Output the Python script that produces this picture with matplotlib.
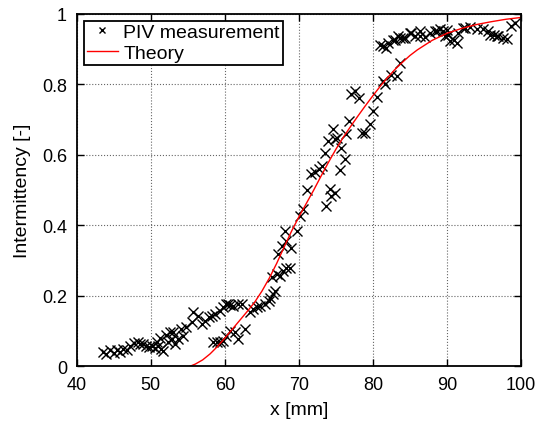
import numpy as np
import matplotlib
matplotlib.use("Agg")
import matplotlib.pyplot as plt

plt.rcParams['font.family'] = ['Liberation Sans', 'DejaVu Sans']

# PIV measurement points (x [mm], intermittency)
piv_x = [43.6, 44.0, 44.5, 45.0, 45.4, 45.9, 46.3, 46.8, 47.2, 47.7, 48.2, 48.6, 49.0, 49.4, 49.8,
         50.2, 50.6, 51.0, 51.4, 51.7,
         50.8, 51.3, 52.0, 52.3, 52.6, 53.0, 53.3, 53.7, 54.1, 54.4, 54.8, 52.9,
         55.5, 55.7, 56.4, 56.9, 57.3, 57.8, 58.2, 58.7, 59.3, 59.8, 60.2, 60.7, 61.1, 61.8, 62.3, 60.4,
         58.4, 58.9, 59.3, 59.8, 60.2, 60.7, 61.4, 61.8, 62.7, 63.4, 63.8, 64.3, 64.7, 65.4, 65.9, 66.1,
         66.5, 66.8,
         66.3, 67.0, 67.4, 67.9, 68.3, 68.8, 67.2, 67.7, 68.3, 69.0, 68.1, 69.7, 70.1, 70.6, 71.1,
         73.7, 74.2, 74.9, 74.4, 71.7, 72.2, 72.7, 73.1, 73.5, 75.5, 76.2, 75.7, 73.9, 74.9, 74.6, 76.4,
         76.7, 75.1,
         78.5, 78.9, 79.6, 80.0, 80.6, 77.1, 77.6, 78.1,
         81.4, 81.6, 82.5, 83.2, 83.6,
         80.9, 81.4, 81.8, 82.1, 82.7, 83.0, 83.4, 83.6, 84.1, 84.3, 85.0, 85.2, 85.7, 86.3, 86.4, 87.0,
         87.7, 88.4, 88.6, 89.1, 89.5, 89.7, 90.0, 90.2, 90.4, 90.9, 91.3, 91.5, 92.2, 92.4, 93.1, 94.0,
         94.9, 95.6, 95.8, 96.3, 96.7, 96.9, 97.6, 98.1, 98.7, 99.2]
piv_y = [0.040, 0.035, 0.045, 0.038, 0.046, 0.040, 0.050, 0.047, 0.058, 0.065, 0.068, 0.064, 0.062, 0.058, 0.055,
         0.058, 0.052, 0.058, 0.048, 0.044,
         0.068, 0.080, 0.090, 0.068, 0.098, 0.096, 0.062, 0.077, 0.106, 0.085, 0.110, 0.078,
         0.125, 0.153, 0.143, 0.120, 0.129, 0.139, 0.143, 0.148, 0.158, 0.167, 0.177, 0.174, 0.172, 0.177, 0.177, 0.177,
         0.068, 0.068, 0.068, 0.073, 0.087, 0.101, 0.096, 0.077, 0.106, 0.153, 0.162, 0.167, 0.172, 0.177, 0.186, 0.195,
         0.205, 0.214,
         0.252, 0.262, 0.257, 0.271, 0.280, 0.280, 0.318, 0.342, 0.356, 0.337, 0.384, 0.384, 0.427, 0.446, 0.500,
         0.455, 0.502, 0.493, 0.483, 0.545, 0.550, 0.560, 0.568, 0.606, 0.556, 0.587, 0.620, 0.639, 0.644, 0.672, 0.658,
         0.696, 0.649,
         0.663, 0.663, 0.688, 0.724, 0.765, 0.772, 0.781, 0.760,
         0.809, 0.800, 0.828, 0.823, 0.861,
         0.913, 0.908, 0.903, 0.918, 0.927, 0.927, 0.936, 0.932, 0.932, 0.932, 0.946, 0.946, 0.937, 0.951, 0.937, 0.935,
         0.946, 0.951, 0.951, 0.958, 0.951, 0.937, 0.955, 0.941, 0.922, 0.927, 0.918, 0.946, 0.960, 0.960, 0.962, 0.958,
         0.956, 0.951, 0.941, 0.941, 0.937, 0.937, 0.932, 0.930, 0.965, 0.975]

# theory curve
theory_x = [55.3, 56, 57, 58, 59, 60, 61, 62, 63, 64, 65, 66, 67, 68, 69, 70, 71, 72, 73, 74,
            75, 76, 77, 78, 79, 80, 81, 82, 83, 84, 85, 86, 88, 90, 92, 94, 96, 98, 100]
theory_y = [0.0, 0.006, 0.018, 0.035, 0.056, 0.08, 0.105, 0.13, 0.155, 0.181, 0.213, 0.25, 0.292,
            0.338, 0.383, 0.424, 0.462, 0.5, 0.54, 0.579, 0.616, 0.65, 0.681, 0.711, 0.74, 0.768,
            0.795, 0.82, 0.843, 0.863, 0.882, 0.898, 0.925, 0.945, 0.959, 0.97, 0.978, 0.985, 0.99]

fig = plt.figure(figsize=(5.41, 4.27), dpi=100)
ax = fig.add_axes([0.142, 0.14, 0.821, 0.825])

ax.plot(piv_x, piv_y, 'kx', markersize=7, markeredgewidth=1.0, label='PIV measurement')
ax.plot(theory_x, theory_y, 'r-', linewidth=1.0, label='Theory')

ax.set_xlim(40, 100)
ax.set_ylim(0, 1)
ax.set_xticks(np.arange(40, 101, 10))
ax.set_yticks(np.arange(0, 1.01, 0.2))
ax.set_yticklabels(['0', '0.2', '0.4', '0.6', '0.8', '1'])
ax.tick_params(direction='in', top=True, right=True, length=5, width=1, labelsize=13, pad=7)
for s in ax.spines.values():
    s.set_linewidth(1.3)
ax.grid(True, linestyle=':', color='0.4', linewidth=0.8)

ax.set_xlabel('x [mm]', fontsize=14, labelpad=6)
ax.set_ylabel('Intermittency [-]', fontsize=14, labelpad=8)

leg = ax.legend(loc='upper left', fontsize=14, fancybox=False, framealpha=1,
                edgecolor='black', borderaxespad=0.35, handlelength=1.6, markerscale=0.7,
                borderpad=0.15, labelspacing=0.15, handletextpad=0.3)
leg.get_frame().set_linewidth(1.3)

fig.savefig('out.png', dpi=100)
